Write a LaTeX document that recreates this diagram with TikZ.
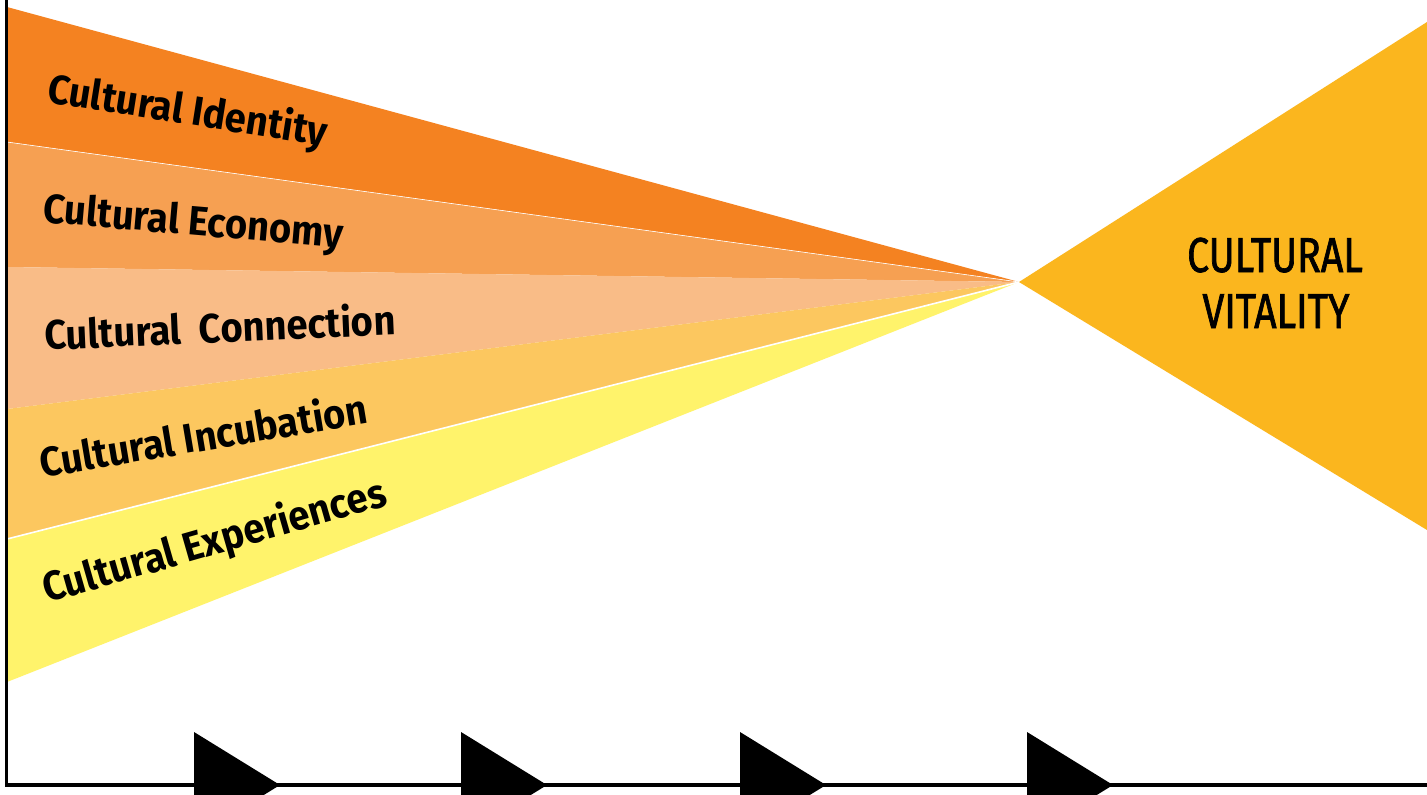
\documentclass[tikz,border=0pt]{standalone}
\usepackage{fontspec}
\newfontfamily\labfont[FakeStretch=0.93]{Fira Sans}
\newfontfamily\vitfont[FakeStretch=0.8,FakeBold=1.4]{Fira Sans}
\definecolor{cid}{HTML}{F48221}
\definecolor{ceco}{HTML}{F6A052}
\definecolor{ccon}{HTML}{F9BC87}
\definecolor{cinc}{HTML}{FCC75F}
\definecolor{cexp}{HTML}{FFF36B}
\definecolor{cvit}{HTML}{FBB61E}
\tikzset{
  band/.style={draw=none},
  lab/.style={inner sep=0pt, anchor=base west, font=\labfont\bfseries\fontsize{41}{41}\selectfont},
  vit/.style={inner sep=0pt, anchor=base, font=\vitfont\fontsize{49}{49}\selectfont},
  axis/.style={line width=3.5pt, black},
  tip/.style={fill=black, draw=none}
}
\begin{document}
\begin{tikzpicture}[x=1pt,y=-1pt]
\useasboundingbox (0,0) rectangle (1427,795);
\clip (0,0) rectangle (1427,795);
\fill[white] (0,0) rectangle (1427,795);
\coordinate (P) at (1019,282);
% bands
\fill[cid] (7,7) -- (P) -- (7,142) -- cycle;
\fill[ceco] (7,142) -- (P) -- (7,267) -- cycle;
\fill[ccon] (7,267) -- (P) -- (7,409) -- cycle;
\fill[cinc] (7,409) -- (P) -- (7,539) -- cycle;
\fill[cexp] (7,539) -- (P) -- (7,682) -- cycle;
\draw[white, line width=0.6pt] (7,142) -- (P);
\draw[white, line width=1.6pt] (7,539) -- (P);
% vitality wedge
\fill[cvit] (P) -- (1427,22) -- (1427,530) -- cycle;
% labels
\node[lab, rotate=-9] (lid) at (46,102) {Cultural Identity};
\node[lab, rotate=-5] (leco) at (42,222) {Cultural Economy};
\node[lab, rotate=2.5] (lcon) at (45,350) {Cultural\ \ Connection};
\node[lab, rotate=9.5] (linc) at (42,478) {Cultural Incubation};
\node[lab, rotate=16] (lexp) at (47,603) {Cultural Experiences};
\node[vit] (v1) at (1275,272) {CULTURAL};
\node[vit] (v2) at (1276,328) {VITALITY};
% axes
\draw[axis] (6.5,0) -- (6.5,785) -- (1427,785);
% arrow tips
\foreach \a in {194,461,740,1027}{
  \fill[tip] (\a,732) -- (\a+86,785) -- (\a,838) -- cycle;
}
\end{tikzpicture}
\end{document}
